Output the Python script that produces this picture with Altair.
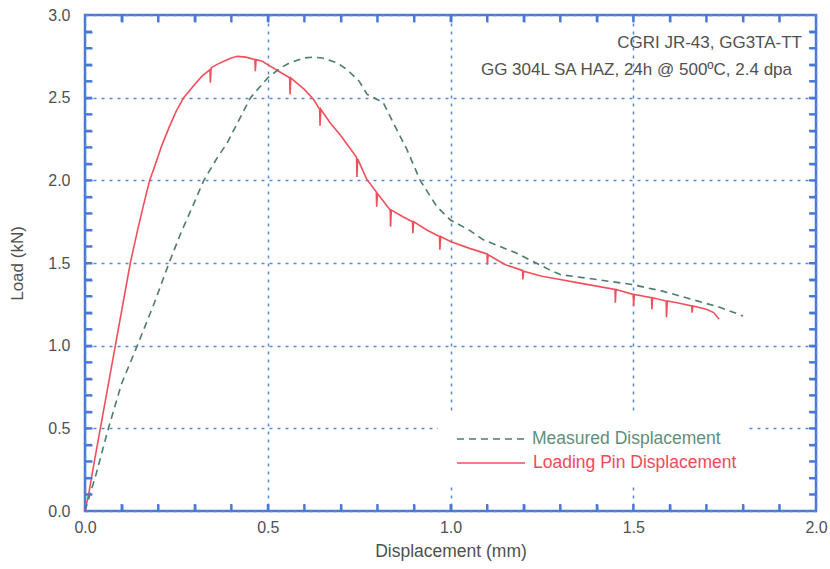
import altair as alt
import pandas as pd

# ---- data ----
pin_x = [0.000, 0.010, 0.020, 0.042, 0.083, 0.124, 0.144, 0.160, 0.177, 0.190, 0.210, 0.230,
         0.250, 0.270, 0.300, 0.320, 0.342, 0.343, 0.345, 0.360, 0.380, 0.400, 0.417, 0.440,
         0.465, 0.466, 0.468, 0.485, 0.500, 0.530, 0.560, 0.561,
         0.563, 0.600, 0.625, 0.642, 0.643, 0.645, 0.670, 0.700, 0.743, 0.744, 0.746, 0.770,
         0.797, 0.798, 0.800, 0.835, 0.836, 0.838, 0.870, 0.896, 0.897, 0.899, 0.935, 0.970,
         0.971, 0.973, 1.000, 1.050, 1.100, 1.101, 1.103, 1.150, 1.197, 1.198, 1.200, 1.250,
         1.300, 1.350, 1.400, 1.450, 1.451, 1.453, 1.500, 1.501, 1.503, 1.550, 1.551, 1.553,
         1.590, 1.591, 1.593, 1.620, 1.660, 1.661, 1.663, 1.700, 1.720, 1.735]
pin_y = [0.00, 0.10, 0.23, 0.50, 1.00, 1.50, 1.70, 1.85, 2.00, 2.08, 2.21, 2.32,
         2.42, 2.50, 2.58, 2.63, 2.67, 2.59, 2.68, 2.70, 2.72, 2.74, 2.75, 2.745,
         2.73, 2.66, 2.73, 2.72, 2.70, 2.66, 2.62, 2.52,
         2.62, 2.55, 2.49, 2.43, 2.33, 2.43, 2.35, 2.27, 2.14, 2.02, 2.13, 2.01,
         1.93, 1.84, 1.92, 1.82, 1.72, 1.82, 1.78, 1.75, 1.68, 1.75, 1.70, 1.66,
         1.58, 1.66, 1.63, 1.59, 1.555, 1.49, 1.55, 1.49, 1.455, 1.40, 1.45, 1.42,
         1.40, 1.38, 1.36, 1.34, 1.26, 1.34, 1.31, 1.24, 1.31, 1.29, 1.22, 1.29,
         1.27, 1.17, 1.27, 1.26, 1.24, 1.20, 1.24, 1.22, 1.20, 1.16]

meas_x = [0.000, 0.030, 0.064, 0.100, 0.143, 0.190, 0.230, 0.262, 0.290, 0.325, 0.360, 0.390,
          0.420, 0.453, 0.500, 0.535, 0.560, 0.600, 0.625, 0.650, 0.690, 0.717, 0.750, 0.772,
          0.816, 0.843, 0.880, 0.917, 0.963, 1.000, 1.050, 1.090, 1.180, 1.270, 1.300, 1.400,
          1.496, 1.580, 1.660, 1.740, 1.800]
meas_y = [0.00, 0.22, 0.50, 0.77, 1.00, 1.26, 1.50, 1.68, 1.82, 2.00, 2.13, 2.23,
          2.36, 2.50, 2.62, 2.68, 2.71, 2.74, 2.745, 2.74, 2.71, 2.67, 2.60, 2.52,
          2.47, 2.35, 2.19, 2.00, 1.84, 1.76, 1.70, 1.64, 1.56, 1.46, 1.43, 1.40,
          1.37, 1.33, 1.28, 1.23, 1.18]

x_major = [0.0, 0.5, 1.0, 1.5, 2.0]
y_major = [0.0, 0.5, 1.0, 1.5, 2.0, 2.5, 3.0]
x_minor = [round(0.1 * i, 1) for i in range(1, 20)]
y_minor = [round(0.1 * i, 1) for i in range(1, 30)]

legend_labels = ["Measured Displacement", "Loading Pin Displacement"]
note_lines = ["CGRI JR-43, GG3TA-TT", "GG 304L SA HAZ, 24h @ 500\u00baC, 2.4 dpa"]

# ---- styling ----
FONT = "Liberation Sans"
BLUE = "#4a78d4"
GRID = "#5a86e0"
RED = "#f0505c"
GREEN = "#4d7c68"
TEXT = "#505050"
W, H = 731, 496
TK = 7

pin_df = pd.DataFrame({"x": pin_x, "y": pin_y, "i": range(len(pin_x))})
meas_df = pd.DataFrame({"x": meas_x, "y": meas_y, "i": range(len(meas_x))})
xm_df = pd.DataFrame({"v": x_minor})
ym_df = pd.DataFrame({"v": y_minor})
one = pd.DataFrame({"a": [0]})

xscale = alt.Scale(domain=[0, 2], nice=False, zero=False)
yscale = alt.Scale(domain=[0, 3], nice=False, zero=False)

xaxis = alt.Axis(values=x_major, format=".1f", title="Displacement (mm)", grid=True,
                 gridColor=GRID, gridDash=[3, 5], gridWidth=1.5, ticks=False, domain=False,
                 labelFont=FONT, labelFontSize=16, labelColor=TEXT, labelPadding=8,
                 labelFlush=False, titleFont=FONT, titleFontSize=17.5, titleFontWeight="normal",
                 titleColor=TEXT, titlePadding=7)
yaxis = alt.Axis(values=y_major, format=".1f", title="Load (kN)", grid=True,
                 gridColor=GRID, gridDash=[3, 5], gridWidth=1.5, ticks=False, domain=False,
                 labelFont=FONT, labelFontSize=16, labelColor=TEXT, labelPadding=15,
                 labelFlush=False, titleFont=FONT, titleFontSize=17, titleFontWeight="normal",
                 titleColor=TEXT, titlePadding=21)


def minor_axis(orient, values):
    # inward-pointing minor ticks: axis line moved inside the plot by TK pixels
    return alt.Axis(orient=orient, values=values, labels=False, grid=False, domain=False,
                    ticks=True, tickSize=TK, tickWidth=2, tickColor=BLUE, offset=-TK,
                    title=None)


pin = alt.Chart(pin_df).mark_line(color=RED, strokeWidth=1.6).encode(
    x=alt.X("x:Q", scale=xscale, axis=xaxis),
    y=alt.Y("y:Q", scale=yscale, axis=yaxis),
    order="i:Q")
meas = alt.Chart(meas_df).mark_line(color=GREEN, strokeWidth=1.6, strokeDash=[7, 5]).encode(
    x=alt.X("x:Q", scale=xscale, axis=None),
    y=alt.Y("y:Q", scale=yscale, axis=None),
    order="i:Q")

xb = alt.Chart(xm_df).mark_rule(color=BLUE, strokeWidth=2).encode(
    x=alt.X("v:Q", scale=xscale, axis=minor_axis("bottom", x_minor)),
    y=alt.value(H), y2=alt.value(H - TK))
xt = alt.Chart(xm_df).mark_rule(color=BLUE, strokeWidth=2).encode(
    x=alt.X("v:Q", scale=xscale, axis=minor_axis("top", x_minor)),
    y=alt.value(0), y2=alt.value(TK))
yl = alt.Chart(ym_df).mark_rule(color=BLUE, strokeWidth=2).encode(
    y=alt.Y("v:Q", scale=yscale, axis=minor_axis("left", y_minor)),
    x=alt.value(0), x2=alt.value(TK))
yr = alt.Chart(ym_df).mark_rule(color=BLUE, strokeWidth=2).encode(
    y=alt.Y("v:Q", scale=yscale, axis=minor_axis("right", y_minor)),
    x=alt.value(W), x2=alt.value(W - TK))

legend_box = alt.Chart(one).mark_rect(color="white").encode(
    x=alt.value(353), x2=alt.value(663), y=alt.value(399), y2=alt.value(471))
leg_meas_line = alt.Chart(one).mark_rule(color=GREEN, strokeWidth=1.5, strokeDash=[7, 5]).encode(
    x=alt.value(372), x2=alt.value(440), y=alt.value(424))
leg_pin_line = alt.Chart(one).mark_rule(color=RED, strokeWidth=1.6).encode(
    x=alt.value(372), x2=alt.value(440), y=alt.value(448))
leg_meas_text = alt.Chart(one).mark_text(
    text=legend_labels[0], font=FONT, fontSize=17.5, color="#5f8f7b",
    align="left", baseline="middle").encode(x=alt.value(447), y=alt.value(424))
leg_pin_text = alt.Chart(one).mark_text(
    text=legend_labels[1], font=FONT, fontSize=17.5, color="#f04a5a",
    align="left", baseline="middle").encode(x=alt.value(448), y=alt.value(448))

note1 = alt.Chart(one).mark_text(
    text=note_lines[0], font=FONT, fontSize=17, color=TEXT,
    align="right", baseline="alphabetic").encode(x=alt.value(717), y=alt.value(33))
note2 = alt.Chart(one).mark_text(
    text=note_lines[1], font=FONT, fontSize=17, color=TEXT,
    align="right", baseline="alphabetic").encode(x=alt.value(707), y=alt.value(60))

chart = alt.layer(
    pin, legend_box, meas,
    leg_meas_line, leg_pin_line, leg_meas_text, leg_pin_text, note1, note2,
    xb, xt, yl, yr,
).resolve_axis(
    x="independent", y="independent"
).properties(
    width=W, height=H,
    autosize=alt.AutoSizeParams(type="none"),
    padding={"left": 85, "top": 15, "right": 14, "bottom": 58},
).configure_view(stroke=BLUE, strokeWidth=2.5)

chart.save("out.html", embed_options={"renderer": "svg", "actions": False})
